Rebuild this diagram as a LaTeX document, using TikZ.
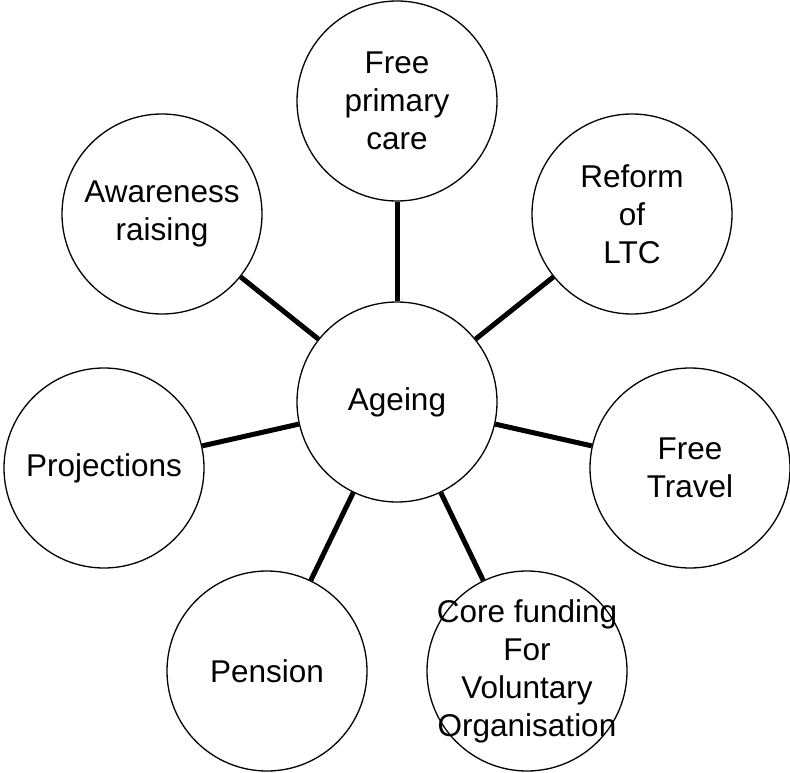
\documentclass[tikz,border=0pt]{standalone}
\usepackage{fontspec}
\setmainfont{Liberation Sans}
\usepackage{tikz}

\begin{document}
\begin{tikzpicture}[x=1pt,y=-1pt,
		topic/.style={draw, circle, line width=1.3pt, minimum size=200pt, inner sep=0pt, align=center, font=\fontsize{31.5}{38}\selectfont},
		spoke/.style={line width=5pt}]
				\useasboundingbox (0,0) rectangle (790,773);
				
				\node[topic] (ageing) at (397,402) {Ageing};
				\node[topic] (primary) at (397,101) {Free\\primary\\care};
				\node[topic] (ltc) at (632,214) {Reform\\of\\LTC};
				\node[topic] (travel) at (690,468) {Free\\Travel};
				\node[topic, inner sep=-20pt] (funding) at (527,671) {Core funding\\For\\Voluntary\\Organisation};
				\node[topic] (pension) at (267,671) {Pension};
				\node[topic] (projections) at (104,468) {Projections};
				\node[topic] (awareness) at (162,214) {Awareness\\raising};
				
				\draw[spoke] (ageing) -- (primary);
				\draw[spoke] (ageing) -- (ltc);
				\draw[spoke] (ageing) -- (travel);
				\draw[spoke] (ageing) -- (funding);
				\draw[spoke] (ageing) -- (pension);
				\draw[spoke] (ageing) -- (projections);
				\draw[spoke] (ageing) -- (awareness);
			\end{tikzpicture}
\end{document}
